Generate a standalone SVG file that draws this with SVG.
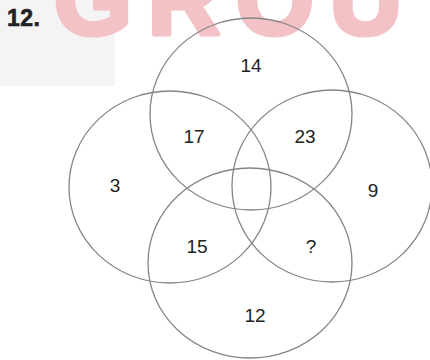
<svg xmlns="http://www.w3.org/2000/svg" width="430" height="360" viewBox="0 0 430 360">
<style>
.c{fill:none;stroke:#858585;stroke-width:1.3}
.t{font-family:"Liberation Sans",Arial,sans-serif;font-size:19px;fill:#222;text-anchor:middle}
</style>
<rect width="430" height="360" fill="#fff"/>
<rect x="0" y="0" width="115" height="86" fill="#f4f4f4"/>
<text x="54" y="34" font-family="'Liberation Sans',Arial,sans-serif" font-weight="bold" font-size="100" letter-spacing="16" fill="#f3c2c6" stroke="#f3c2c6" stroke-width="5" stroke-linejoin="round">GROU</text>
<text x="7" y="26" font-family="'Liberation Sans',Arial,sans-serif" font-weight="bold" font-size="23" letter-spacing="0.5" fill="#222" stroke="#222" stroke-width="0.6">12.</text>
<g id="circle-top"><ellipse class="c" cx="251" cy="114" rx="101" ry="96"/><text class="t" x="251" y="72">14</text></g>
<g id="circle-left"><ellipse class="c" cx="170" cy="187" rx="101" ry="96"/><text class="t" x="115" y="192">3</text></g>
<g id="circle-right"><ellipse class="c" cx="332" cy="186" rx="100" ry="96"/><text class="t" x="373" y="197">9</text></g>
<g id="circle-bottom"><ellipse class="c" cx="250" cy="263" rx="102" ry="95"/><text class="t" x="255" y="322">12</text></g>
<g id="regions">
<text class="t" x="194" y="143">17</text>
<text class="t" x="305" y="143">23</text>
<text class="t" x="197" y="253">15</text>
<text class="t" x="311" y="253">?</text>
</g>
<g id="connectors"/>
</svg>
